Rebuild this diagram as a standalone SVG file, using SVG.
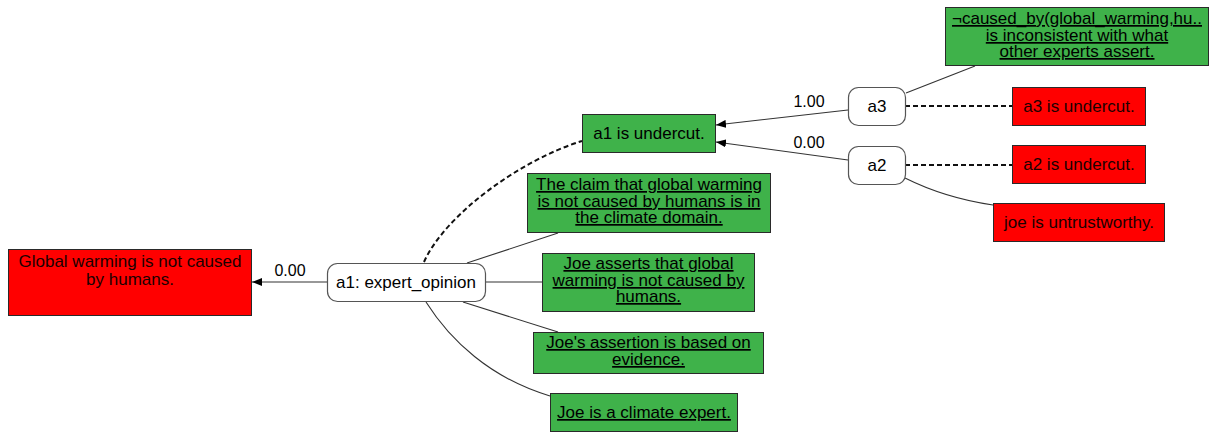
<svg xmlns="http://www.w3.org/2000/svg" width="1211" height="433" viewBox="0 0 1211 433">
<style>
text{font-family:"Liberation Sans",Arial,sans-serif;font-size:17px;fill:#000;text-anchor:middle}
.u{text-decoration:underline}
.g{fill:#3fb24a;stroke:#2a2a2a;stroke-width:1}
.r{fill:#ff0000;stroke:#2a2a2a;stroke-width:1}
.arg{fill:#fff;stroke:#555;stroke-width:1.2}
.e{fill:none;stroke:#333;stroke-width:1.1}
.d{fill:none;stroke:#111;stroke-width:2;stroke-dasharray:5,3}
.lbl{font-size:16px}
.rt{fill:#1a0000}
</style>
<defs>
<marker id="ah" viewBox="0 0 10 8" refX="10" refY="4" markerWidth="10" markerHeight="8" markerUnits="userSpaceOnUse" orient="auto">
<path d="M0,0 L10,4 L0,8 z" fill="#000"/>
</marker>
</defs>
<g id="connectors">
<line class="e" x1="327" y1="282" x2="252" y2="282" marker-end="url(#ah)"/>
<text class="lbl" x="290" y="276">0.00</text>
<line class="e" x1="848" y1="110" x2="716" y2="125" marker-end="url(#ah)"/>
<text class="lbl" x="809" y="107">1.00</text>
<line class="e" x1="848" y1="160" x2="716" y2="142" marker-end="url(#ah)"/>
<text class="lbl" x="809" y="148">0.00</text>
<path class="d" d="M424,262 C445,215 520,160 582,141"/>
<line class="e" x1="467" y1="263" x2="558" y2="233"/>
<line class="e" x1="485" y1="282" x2="542" y2="282"/>
<line class="e" x1="463" y1="302" x2="558" y2="332"/>
<path class="e" d="M426,302 C450,340 490,378 550,396"/>
<line class="e" x1="906" y1="93" x2="975" y2="66"/>
<line class="d" x1="905" y1="106" x2="1012" y2="106"/>
<line class="d" x1="905" y1="165" x2="1012" y2="165"/>
<path class="e" d="M905,178 Q945,198 993,205"/>
</g>
<g id="conclusion">
<rect class="r" x="8.5" y="249.5" width="243" height="66"/>
<text class="rt" x="130" y="267">Global warming is not caused</text>
<text class="rt" x="130" y="285">by humans.</text>
</g>
<g id="a1">
<rect class="arg" x="327.5" y="263.5" width="158" height="38" rx="10"/>
<text x="406" y="288">a1: expert_opinion</text>
</g>
<g id="p1">
<rect class="g" x="527.5" y="173.5" width="243" height="59"/>
<text class="u" x="649" y="190">The claim that global warming</text>
<text class="u" x="649" y="207">is not caused by humans is in</text>
<text class="u" x="649" y="223">the climate domain.</text>
</g>
<g id="p2">
<rect class="g" x="542.5" y="253.5" width="212" height="58"/>
<text class="u" x="648.5" y="269">Joe asserts that global</text>
<text class="u" x="648.5" y="286">warming is not caused by</text>
<text class="u" x="648.5" y="302">humans.</text>
</g>
<g id="p3">
<rect class="g" x="533.5" y="332.5" width="230" height="41"/>
<text class="u" x="648.5" y="348">Joe's assertion is based on</text>
<text class="u" x="648.5" y="365">evidence.</text>
</g>
<g id="p4">
<rect class="g" x="550.5" y="393.5" width="187" height="38"/>
<text class="u" x="644" y="418">Joe is a climate expert.</text>
</g>
<g id="a1u">
<rect class="g" x="582.5" y="114.5" width="133" height="38"/>
<text x="649" y="139">a1 is undercut.</text>
</g>
<g id="a3">
<rect class="arg" x="848.5" y="87.5" width="57" height="38" rx="10"/>
<text x="877" y="112">a3</text>
</g>
<g id="a2">
<rect class="arg" x="848.5" y="146.5" width="57" height="38" rx="10"/>
<text x="877" y="171">a2</text>
</g>
<g id="p5">
<rect class="g" x="945.5" y="7.5" width="263" height="58"/>
<text class="u" x="1077" y="24">¬caused_by(global_warming,hu..</text>
<text class="u" x="1077" y="41">is inconsistent with what</text>
<text class="u" x="1077" y="57">other experts assert.</text>
</g>
<g id="a3u">
<rect class="r" x="1012.5" y="87.5" width="133" height="38"/>
<text class="rt" x="1079" y="112">a3 is undercut.</text>
</g>
<g id="a2u">
<rect class="r" x="1012.5" y="145.5" width="133" height="38"/>
<text class="rt" x="1079" y="170">a2 is undercut.</text>
</g>
<g id="joe">
<rect class="r" x="993.5" y="203.5" width="171" height="38"/>
<text class="rt" x="1079" y="228">joe is untrustworthy.</text>
</g>
</svg>
